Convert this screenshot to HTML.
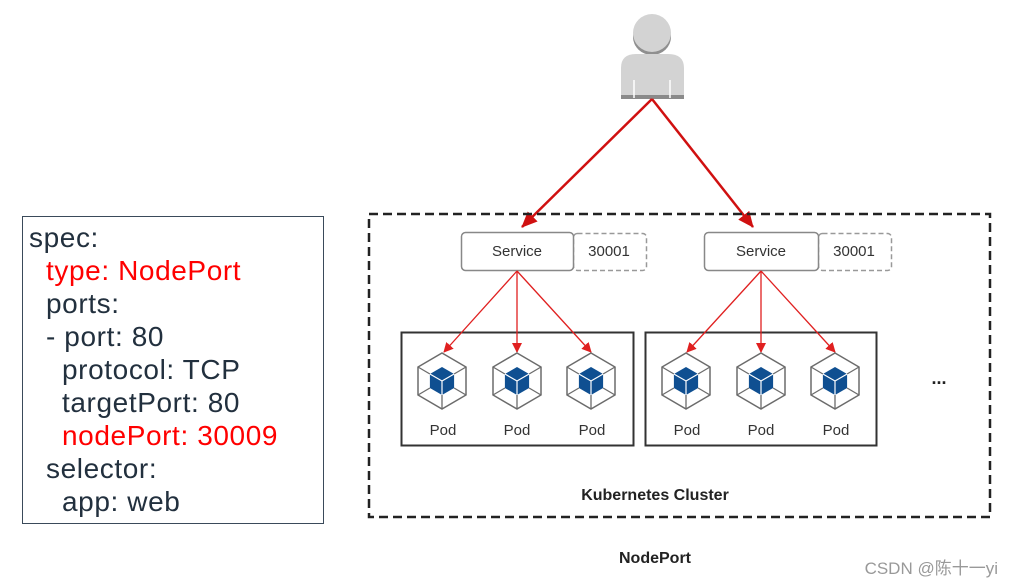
<!DOCTYPE html>
<html><head><meta charset="utf-8"><style>
html,body{margin:0;padding:0;background:#fff;}
svg{display:block;}
</style></head><body>
<svg width="1013" height="588" viewBox="0 0 1013 588" xmlns="http://www.w3.org/2000/svg">
<defs>
<g id="pod">
<path d="M0,-28 L24,-14 L24,14 L0,28 L-24,14 L-24,-14 Z" fill="#fff" stroke="#6b6b6b" stroke-width="1.5"/>
<path d="M0,14 L0,28 M-12.1,7 L-24,14 M12.1,7 L24,14 M-12.1,-7 L-24,-14 M12.1,-7 L24,-14" stroke="#6b6b6b" stroke-width="1.3" fill="none"/>
<path d="M0,-14 L12.1,-7 L12.1,7 L0,14 L-12.1,7 L-12.1,-7 Z" fill="#0f4f91"/>
<path d="M0,0 L0,14 M0,0 L-12.1,-7 M0,0 L12.1,-7" stroke="#fff" stroke-width="1.2"/>
</g>
<marker id="ah" markerWidth="10" markerHeight="10" refX="9" refY="5" orient="auto" markerUnits="userSpaceOnUse"><path d="M0,0 L10,5 L0,10 Z" fill="#e02020"/></marker>
<marker id="ahb" markerWidth="16" markerHeight="14" refX="15" refY="7" orient="auto" markerUnits="userSpaceOnUse"><path d="M0,0 L16,7 L0,14 Z" fill="#d01010"/></marker>
</defs>

<rect x="22.5" y="216.5" width="301" height="307" fill="#fff" stroke="#3a4a5a" stroke-width="1"/>
<g font-family="'Liberation Sans', sans-serif" font-size="28" letter-spacing="0.6" fill="#22303e">
<text x="29" y="247">spec:</text>
<text x="46" y="280" fill="#ff0000">type: NodePort</text>
<text x="46" y="313">ports:</text>
<text x="46" y="346">- port: 80</text>
<text x="62" y="379">protocol: TCP</text>
<text x="62" y="412">targetPort: 80</text>
<text x="62" y="445" fill="#ff0000">nodePort: 30009</text>
<text x="46" y="478">selector:</text>
<text x="62" y="511">app: web</text>
</g>

<ellipse cx="652" cy="37" rx="19" ry="18" fill="#8f8f8f"/>
<circle cx="652" cy="33" r="19" fill="#d3d3d3"/>
<path d="M621,98 L621,68 Q621,54 636,54 L668,54 Q684,54 684,68 L684,98 Z" fill="#d3d3d3"/>
<rect x="621" y="95" width="63" height="4" fill="#8a8a8a"/>
<path d="M634,80 V98 M670,80 V98" stroke="#fff" stroke-width="1.5"/>

<line x1="652" y1="99" x2="522" y2="227" stroke="#d01010" stroke-width="2.5" marker-end="url(#ahb)"/>
<line x1="652" y1="99" x2="753" y2="227" stroke="#d01010" stroke-width="2.5" marker-end="url(#ahb)"/>

<rect x="369" y="214" width="621" height="303" fill="none" stroke="#222" stroke-width="2.5" stroke-dasharray="9,5"/>

<g font-family="'Liberation Sans', sans-serif" font-size="15" fill="#333" text-anchor="middle">
<rect x="573.5" y="233.5" width="73" height="37" rx="4" fill="none" stroke="#999" stroke-width="1.5" stroke-dasharray="5,3"/>
<rect x="461.5" y="232.5" width="112" height="38" rx="4" fill="#fff" stroke="#888" stroke-width="1.5"/>
<text x="517" y="256">Service</text>
<text x="609" y="256">30001</text>
<rect x="818.5" y="233.5" width="73" height="37" rx="4" fill="none" stroke="#999" stroke-width="1.5" stroke-dasharray="5,3"/>
<rect x="704.5" y="232.5" width="114" height="38" rx="4" fill="#fff" stroke="#888" stroke-width="1.5"/>
<text x="761" y="256">Service</text>
<text x="854" y="256">30001</text>
</g>

<rect x="401.5" y="332.5" width="232" height="113" fill="none" stroke="#333" stroke-width="2"/>
<rect x="645.5" y="332.5" width="231" height="113" fill="none" stroke="#333" stroke-width="2"/>

<g stroke="#e02020" stroke-width="1.3" marker-end="url(#ah)">
<line x1="517" y1="271" x2="444" y2="352"/>
<line x1="517" y1="271" x2="517" y2="352"/>
<line x1="517" y1="271" x2="591" y2="352"/>
<line x1="761" y1="271" x2="687" y2="352"/>
<line x1="761" y1="271" x2="761" y2="352"/>
<line x1="761" y1="271" x2="835" y2="352"/>
</g>

<use href="#pod" x="442" y="381"/>
<use href="#pod" x="517" y="381"/>
<use href="#pod" x="591" y="381"/>
<use href="#pod" x="686" y="381"/>
<use href="#pod" x="761" y="381"/>
<use href="#pod" x="835" y="381"/>

<g font-family="'Liberation Sans', sans-serif" font-size="15" fill="#333" text-anchor="middle">
<text x="443" y="435">Pod</text>
<text x="517" y="435">Pod</text>
<text x="592" y="435">Pod</text>
<text x="687" y="435">Pod</text>
<text x="761" y="435">Pod</text>
<text x="836" y="435">Pod</text>
</g>
<text x="939" y="384" font-family="'Liberation Sans', sans-serif" font-size="18" font-weight="bold" fill="#222" text-anchor="middle">...</text>

<g font-family="'Liberation Sans', sans-serif" font-size="16" font-weight="bold" fill="#222" text-anchor="middle">
<text x="655" y="500">Kubernetes Cluster</text>
<text x="655" y="563">NodePort</text>
</g>
<text x="998" y="574" font-family="'Liberation Sans', 'Noto Sans CJK SC', sans-serif" font-size="17" fill="#999" text-anchor="end">CSDN @陈十一yi</text>
</svg>
</body></html>
